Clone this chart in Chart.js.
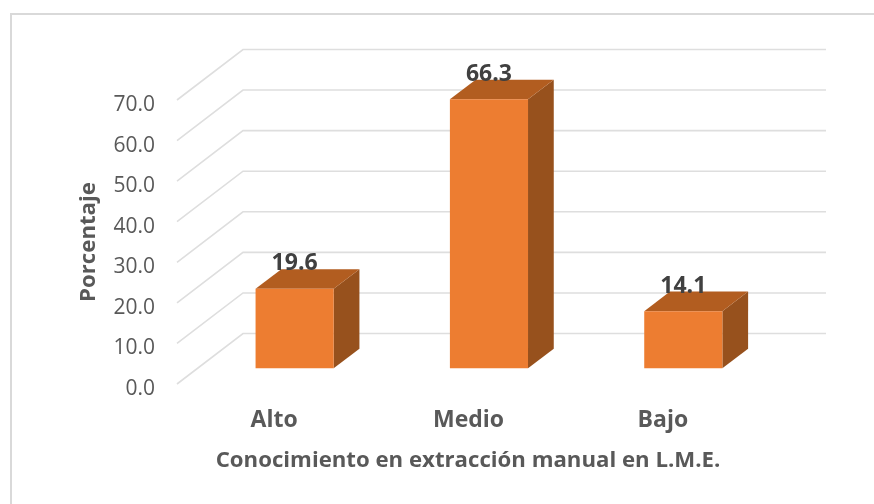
<!DOCTYPE html>
<html>
<head>
<meta charset="utf-8">
<style>
  html, body { margin: 0; padding: 0; background: #fff; }
  #wrap { width: 874px; height: 504px; }
</style>
<script src="https://cdn.jsdelivr.net/npm/chart.js@4"></script>
</head>
<body>
<div id="wrap"><canvas id="chart" width="874" height="504"></canvas></div>
<script>
const categories = ['Alto', 'Medio', 'Bajo'];
const values = [19.6, 66.3, 14.1];
const tickValues = [0, 10, 20, 30, 40, 50, 60, 70];
const xTitle = 'Conocimiento en extracción manual en L.M.E.';
const yTitle = 'Porcentaje';

// depth of the fake 3d floor, in px
const depthX = 66, depthY = 50.5;
// where the bar sits along that depth (0 front, 1 back)
const barFront = 0.31, barDepth = 0.39;
const grey = '#595959';
const gridColor = '#dedede';
const font = '"Open Sans"';

const box3d = {
    id: 'box3d',
    beforeDraw(chart) {
        const ctx = chart.ctx;
        const { x: xs, y: ys } = chart.scales;
        ctx.save();
        // outer frame
        ctx.strokeStyle = '#d9d9d9';
        ctx.lineWidth = 2;
        ctx.beginPath();
        ctx.moveTo(11, 504);
        ctx.lineTo(11, 14);
        ctx.lineTo(874, 14);
        ctx.stroke();
        // grid: slanted part on the floor side, then the back wall
        ctx.strokeStyle = gridColor;
        ctx.lineWidth = 1.6;
        tickValues.forEach(v => {
            const py = ys.getPixelForValue(v);
            ctx.beginPath();
            ctx.moveTo(xs.left, py);
            ctx.lineTo(xs.left + depthX, py - depthY);
            ctx.lineTo(xs.right + depthX, py - depthY);
            ctx.stroke();
        });
        // y tick labels at the front edge
        ctx.fillStyle = grey;
        ctx.font = '21px ' + font;
        ctx.textAlign = 'right';
        ctx.textBaseline = 'middle';
        tickValues.forEach(v => {
            ctx.fillText(v.toFixed(1), 155, ys.getPixelForValue(v) + 5);
        });
        // x labels
        ctx.font = 'bold 23px ' + font;
        ctx.textAlign = 'center';
        categories.forEach((c, i) => {
            ctx.fillText(c, xs.getPixelForValue(i), 420);
        });
        // axis titles
        ctx.font = 'bold 22.2px ' + font;
        ctx.fillText(xTitle, 468, 461);
        ctx.save();
        ctx.translate(89, 242);
        ctx.rotate(-Math.PI / 2);
        ctx.fillText(yTitle, 0, 0);
        ctx.restore();
        ctx.restore();
    },
    beforeDatasetDraw(chart) {
        const ctx = chart.ctx;
        const ox = depthX * barFront, oy = depthY * barFront;
        const dx = depthX * barDepth, dy = depthY * barDepth;
        ctx.save();
        ctx.translate(ox, -oy);
        chart.getDatasetMeta(0).data.forEach(bar => {
            const l = bar.x - bar.width / 2, r = bar.x + bar.width / 2;
            // right side
            ctx.fillStyle = '#97511d';
            ctx.beginPath();
            ctx.moveTo(r, bar.y);
            ctx.lineTo(r + dx, bar.y - dy);
            ctx.lineTo(r + dx, bar.base - dy);
            ctx.lineTo(r, bar.base);
            ctx.closePath();
            ctx.fill();
            // top
            ctx.fillStyle = '#b25d20';
            ctx.beginPath();
            ctx.moveTo(l, bar.y);
            ctx.lineTo(l + dx, bar.y - dy);
            ctx.lineTo(r + dx, bar.y - dy);
            ctx.lineTo(r, bar.y);
            ctx.closePath();
            ctx.fill();
        });
    },
    afterDatasetDraw(chart) {
        chart.ctx.restore();
    },
    afterDatasetsDraw(chart) {
        const ctx = chart.ctx;
        const ox = depthX * barFront, oy = depthY * barFront;
        ctx.save();
        ctx.fillStyle = '#404040';
        ctx.font = 'bold 23px ' + font;
        ctx.textAlign = 'center';
        ctx.textBaseline = 'middle';
        chart.getDatasetMeta(0).data.forEach((bar, i) => {
            ctx.fillText(values[i].toFixed(1), bar.x + ox, bar.y - oy - 25);
        });
        ctx.restore();
    }
};

new Chart(document.getElementById('chart'), {
    type: 'bar',
    data: {
        labels: categories,
        datasets: [{
            data: values,
            backgroundColor: '#ed7d31',
            barPercentage: 0.402,
            categoryPercentage: 1,
            clip: false
        }]
    },
    options: {
        responsive: false,
        animation: false,
        layout: { padding: { left: 177, right: 114, top: 100, bottom: 120 } },
        plugins: { legend: { display: false }, tooltip: { enabled: false } },
        scales: {
            x: { display: false },
            y: { display: false, min: 0, max: 70 }
        }
    },
    plugins: [box3d]
});
</script>
</body>
</html>
